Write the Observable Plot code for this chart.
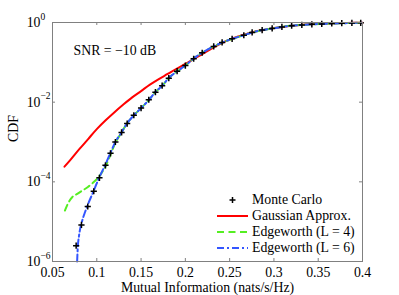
<!DOCTYPE html>
<html><head><meta charset="utf-8">
<script src="https://cdn.jsdelivr.net/npm/d3@7"></script>
<script src="https://cdn.jsdelivr.net/npm/@observablehq/plot@0.6"></script>
<style>
html,body{margin:0;padding:0;background:#fff;}
#wrap{position:relative;width:399px;height:295px;font-family:"Liberation Serif","Times New Roman",serif;}
#legend{position:absolute;left:216px;top:192px;font-size:13.8px;line-height:16px;}
.row{display:flex;align-items:center;height:16px;}
.row svg{width:33px;height:16px;margin-right:3px;}
</style>
</head><body>
<div id="wrap"><div id="chart"></div><div id="legend"></div></div>
<script>
// ---- data ----
const mcX = [0.0767,0.0827,0.0898,0.0966,0.1030,0.1098,0.1155,0.1210,0.1280,0.1343,0.1418,0.1500,0.1587,0.1662,0.1738,0.1813,0.1907,0.2000,0.2094,0.2190,0.2320,0.2415,0.2528,0.2660,0.2754,0.2867,0.2980,0.3090,0.3200,0.3315,0.3428,0.3540,0.3653,0.3766,0.3880,0.3980];
const mcY = [2.5e-6,8.3e-6,2.4e-5,5.8e-5,1.26e-4,2.6e-4,5.2e-4,1.0e-3,1.74e-3,2.9e-3,4.7e-3,7.1e-3,1.15e-2,1.78e-2,2.6e-2,4.0e-2,6.0e-2,8.3e-2,0.123,0.174,0.251,0.316,0.389,0.479,0.562,0.646,0.708,0.776,0.832,0.871,0.902,0.923,0.944,0.959,0.973,0.982];

const gaussX = [0.0635,0.070,0.080,0.090,0.100,0.110,0.120,0.130,0.140,0.150,0.160,0.170,0.180,0.190,0.200,0.210,0.220,0.230,0.240,0.250,0.260,0.270,0.280,0.290,0.300,0.310,0.320,0.330,0.340,0.350,0.360,0.370,0.380,0.390,0.400];
const gaussY = [2.4e-4,3.5e-4,6.5e-4,1.17e-3,2.1e-3,3.5e-3,5.6e-3,8.7e-3,1.32e-2,1.9e-2,2.75e-2,3.8e-2,5.1e-2,6.9e-2,9.1e-2,0.123,0.166,0.224,0.295,0.372,0.447,0.525,0.603,0.661,0.724,0.776,0.832,0.871,0.902,0.923,0.944,0.959,0.973,0.979,0.986];

// shared upper part where the Edgeworth curves coincide with the simulation
const tailX = [0.128,0.134,0.142,0.150,0.159,0.166,0.174,0.181,0.191,0.200,0.209,0.219,0.232,0.242,0.253,0.266,0.275,0.287,0.298,0.309,0.320,0.332,0.343,0.354,0.365,0.377,0.388,0.400];
const tailY = [1.74e-3,2.9e-3,4.7e-3,7.1e-3,1.15e-2,1.78e-2,2.6e-2,4.0e-2,6.0e-2,8.3e-2,0.123,0.174,0.251,0.316,0.389,0.479,0.562,0.646,0.708,0.776,0.832,0.871,0.902,0.923,0.944,0.959,0.973,0.984];

const edge4X = [0.0640,0.068,0.0722,0.078,0.0835,0.090,0.0948,0.100,0.104,0.110,0.1155,0.121, ...tailX];
const edge4Y = [1.9e-5,3.0e-5,4.1e-5,5.0e-5,6.0e-5,7.4e-5,9.1e-5,1.17e-4,1.5e-4,2.5e-4,4.8e-4,9.5e-4, ...tailY];

const edge6X = [0.0778,0.0785,0.080,0.083,0.087,0.090,0.0966,0.1030,0.1098,0.1155,0.121, ...tailX];
const edge6Y = [1.0e-6,2.2e-6,4.5e-6,9.5e-6,1.8e-5,2.7e-5,6.0e-5,1.32e-4,2.75e-4,5.4e-4,1.0e-3, ...tailY];

const xTicks = [0.05,0.1,0.15,0.2,0.25,0.3,0.35,0.4];
const xTickLabels = ["0.05","0.1","0.15","0.2","0.25","0.3","0.35","0.4"];
const yTicks = [1e-6,1e-4,1e-2,1];
const yTickExp = ["\u22126","\u22124","\u22122","0"];
const xLabel = "Mutual Information (nats/s/Hz)";
const yLabel = "CDF";
const note = "SNR = \u221210 dB";
const seriesNames = ["Monte Carlo","Gaussian Approx.","Edgeworth (L = 4)","Edgeworth (L = 6)"];

const toRows = (xs, ys) => xs.map((x, i) => ({x, y: ys[i]}));
const mc = toRows(mcX, mcY), gauss = toRows(gaussX, gaussY), e4 = toRows(edge4X, edge4Y), e6 = toRows(edge6X, edge6Y);

const plusSymbol = {draw(ctx, size){ const r = Math.sqrt(size/Math.PI); ctx.moveTo(-r,0); ctx.lineTo(r,0); ctx.moveTo(0,-r); ctx.lineTo(0,r); }};

const W = 399, H = 295, mL = 52, mR = 37, mT = 22, mB = 34;
const pw = W - mL - mR, ph = H - mT - mB;
const frameColor = "#808080";
const red = "#ff0000", green = "#55ee22", blue = "#3355ff";
const fs = 13.8;

const chart = Plot.plot({
  width: W, height: H,
  marginLeft: mL, marginRight: mR, marginTop: mT, marginBottom: mB,
  style: {fontFamily: "'Liberation Serif', 'Times New Roman', serif", fontSize: fs + "px", background: "#fff", color: "#000", overflow: "visible"},
  x: {domain: [0.05, 0.4]},
  y: {type: "log", domain: [1e-6, 1]},
  marks: [
    Plot.axisX({ticks: xTicks, tickFormat: (d, i) => xTickLabels[i], tickSize: 0, tickPadding: 6, label: null, fontSize: fs}),
    Plot.axisY({ticks: [], label: null}),
    // inward ticks
    Plot.tickX(xTicks, {x: d => d, stroke: frameColor, insetTop: ph - 3}),
    Plot.tickX(xTicks, {x: d => d, stroke: frameColor, insetBottom: ph - 3}),
    Plot.tickY(yTicks, {y: d => d, stroke: frameColor, insetRight: pw - 3}),
    Plot.tickY(yTicks, {y: d => d, stroke: frameColor, insetLeft: pw - 3}),
    // y tick labels 10^k
    Plot.text(yTicks, {y: d => d, frameAnchor: "left", text: () => "10", textAnchor: "end", dx: -12, fontSize: fs}),
    Plot.text(yTicks, {y: d => d, frameAnchor: "left", text: (d, i) => yTickExp[i], textAnchor: "start", dx: -12, dy: -6, fontSize: 9.5}),
    // curves
    Plot.line(gauss, {x: "x", y: "y", stroke: red, strokeWidth: 2, curve: "monotone-x"}),
    Plot.line(e4, {x: "x", y: "y", stroke: green, strokeWidth: 2, strokeDasharray: "6,4", curve: "monotone-x"}),
    Plot.line(e6, {x: "x", y: "y", stroke: blue, strokeWidth: 2, strokeDasharray: "7,3,2,3", curve: "monotone-x"}),
    Plot.dot(mc, {x: "x", y: "y", symbol: plusSymbol, r: 3.1, stroke: "#000", strokeWidth: 1.5, fill: "none"}),
    Plot.frame({stroke: frameColor}),
    // annotations
    Plot.text([note], {frameAnchor: "top-left", text: d => d, textAnchor: "start", dx: 21, dy: 23, fontSize: fs}),
    Plot.text([xLabel], {frameAnchor: "bottom", text: d => d, dy: 26, lineAnchor: "middle", fontSize: fs}),
    Plot.text([yLabel], {frameAnchor: "left", text: d => d, dx: -39, rotate: -90, fontSize: fs})
  ]
});
document.getElementById("chart").appendChild(chart);

// legend
const legend = document.getElementById("legend");
const samples = [
  `<line x1="16.5" x2="16.5" y1="5" y2="11" stroke="#000" stroke-width="1.5"/><line x1="13.5" x2="19.5" y1="8" y2="8" stroke="#000" stroke-width="1.5"/>`,
  `<line x1="1" x2="32" y1="8" y2="8" stroke="${red}" stroke-width="2"/>`,
  `<line x1="1" x2="32" y1="8" y2="8" stroke="${green}" stroke-width="2" stroke-dasharray="7,4.5"/>`,
  `<line x1="1" x2="32" y1="8" y2="8" stroke="${blue}" stroke-width="2" stroke-dasharray="7,3,2,3"/>`
];
seriesNames.forEach((name, i) => {
  const row = document.createElement("div");
  row.className = "row";
  row.innerHTML = `<svg viewBox="0 0 33 16">${samples[i]}</svg><span>${name}</span>`;
  legend.appendChild(row);
});
</script>
</body></html>
